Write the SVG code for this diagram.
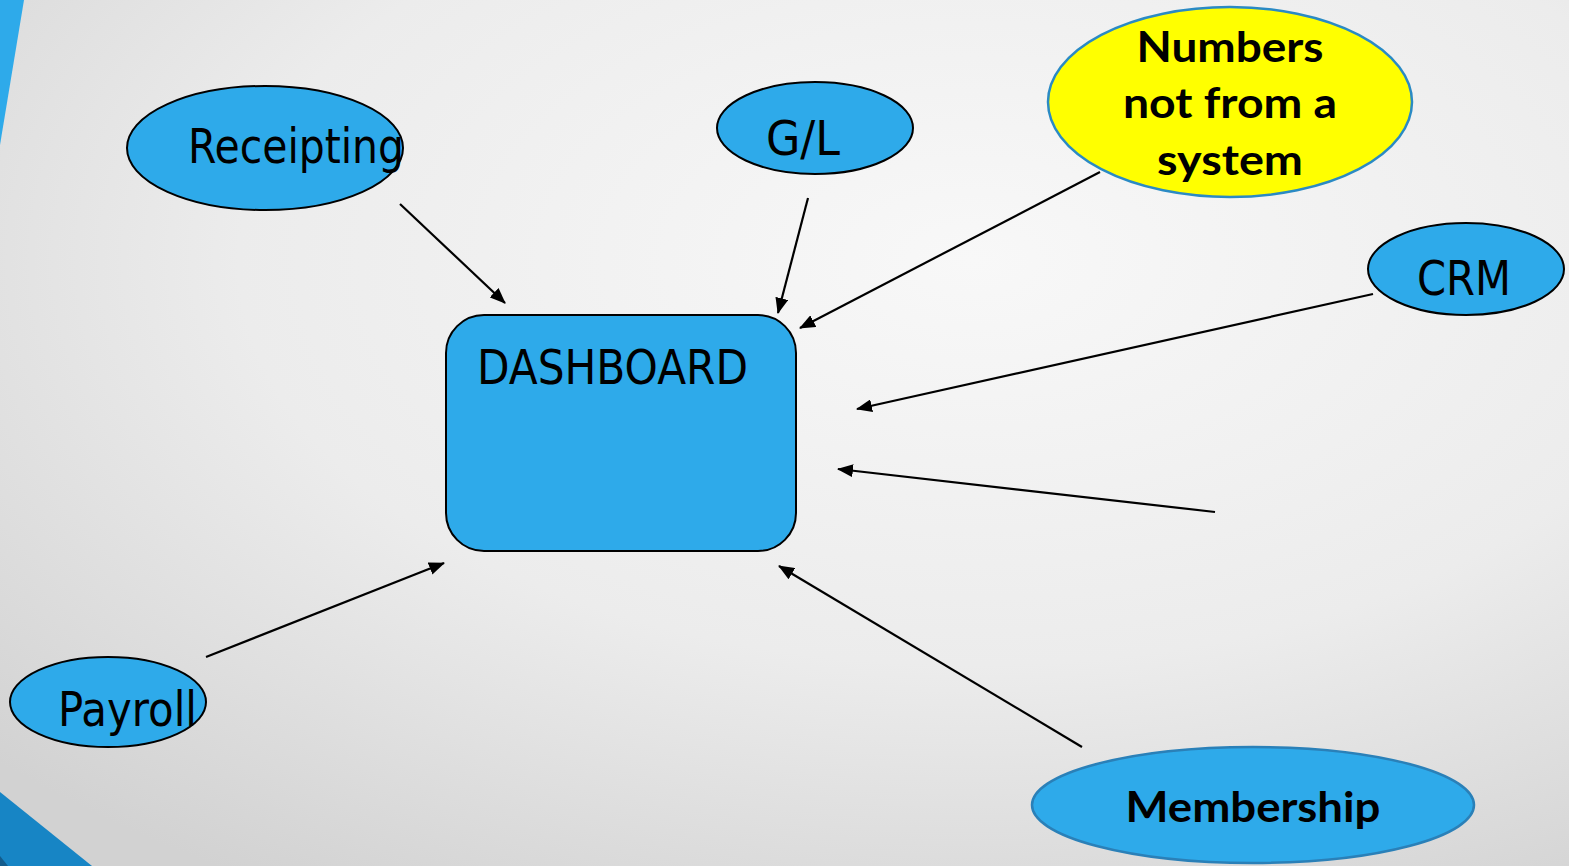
<svg xmlns="http://www.w3.org/2000/svg" width="1569" height="866" viewBox="0 0 1569 866">
  <defs>
    <radialGradient id="bg" cx="0.62" cy="0.3" r="0.85" gradientUnits="objectBoundingBox">
      <stop offset="0" stop-color="#f8f8f8"/>
      <stop offset="0.55" stop-color="#ececec"/>
      <stop offset="1" stop-color="#d2d2d2"/>
    </radialGradient>
    <marker id="arrow" viewBox="0 0 16 13" refX="15" refY="6.5" markerWidth="16" markerHeight="13" markerUnits="userSpaceOnUse" orient="auto">
      <path d="M0,0 L16,6.5 L0,13 Z" fill="#000"/>
    </marker>
    <style>
      .node { fill: #2eaaea; stroke: #000; stroke-width: 2; }
      .node-blue { fill: #2eaaea; stroke: #2a80b8; stroke-width: 2.5; }
      .node-yellow { fill: #ffff00; stroke: #2a8ac4; stroke-width: 2.5; }
      .lbl { font-family: "DejaVu Sans", Verdana, sans-serif; font-size: 48px; fill: #000; }
      .lbl-bold { font-family: Lato, "Open Sans", "Liberation Sans", sans-serif; font-weight: 700; font-size: 42px; fill: #000; text-anchor: middle; }
      .conn line { stroke: #000; stroke-width: 2.2; marker-end: url(#arrow); }
    </style>
  </defs>

  <!-- background and slide decorations -->
  <rect x="0" y="0" width="1569" height="866" fill="url(#bg)"/>
  <polygon points="0,0 24,0 0,145" fill="#2eaaea"/>
  <polygon points="0,792 92,866 0,866" fill="#1785c5"/>
  <polygon points="0,856 8,866 0,866" fill="#135c8c"/>

  <!-- connectors -->
  <g id="connectors" class="conn">
    <line x1="400" y1="204" x2="505" y2="303"/>
    <line x1="808" y1="198" x2="778" y2="313"/>
    <line x1="1100" y1="172" x2="800" y2="328"/>
    <line x1="1373" y1="294" x2="857" y2="409"/>
    <line x1="1215" y1="512" x2="838" y2="469"/>
    <line x1="206" y1="657" x2="444" y2="563"/>
    <line x1="1082" y1="747" x2="779" y2="566"/>
  </g>

  <g id="dashboard">
    <rect class="node" x="446" y="315" width="350" height="236" rx="38" ry="38"/>
    <text class="lbl" x="477" y="384" textLength="271" lengthAdjust="spacingAndGlyphs">DASHBOARD</text>
  </g>

  <g id="receipting">
    <ellipse class="node" cx="265" cy="148" rx="138" ry="62"/>
    <text class="lbl" x="188" y="163" textLength="216" lengthAdjust="spacingAndGlyphs">Receipting</text>
  </g>

  <g id="gl">
    <ellipse class="node" cx="815" cy="128" rx="98" ry="46"/>
    <text class="lbl" x="766" y="155" textLength="74" lengthAdjust="spacingAndGlyphs">G/L</text>
  </g>

  <g id="numbers">
    <ellipse class="node-yellow" cx="1230" cy="102" rx="182" ry="95"/>
    <text class="lbl-bold" x="1230" y="62" textLength="187" lengthAdjust="spacingAndGlyphs">Numbers</text>
    <text class="lbl-bold" x="1230" y="118" textLength="214" lengthAdjust="spacingAndGlyphs">not from a</text>
    <text class="lbl-bold" x="1230" y="175" textLength="146" lengthAdjust="spacingAndGlyphs">system</text>
  </g>

  <g id="crm">
    <ellipse class="node" cx="1466" cy="269" rx="98" ry="46"/>
    <text class="lbl" x="1417" y="295" textLength="94" lengthAdjust="spacingAndGlyphs">CRM</text>
  </g>

  <g id="payroll">
    <ellipse class="node" cx="108" cy="702" rx="98" ry="45"/>
    <text class="lbl" x="58" y="726" textLength="139" lengthAdjust="spacingAndGlyphs">Payroll</text>
  </g>

  <g id="membership">
    <ellipse class="node-blue" cx="1253" cy="805" rx="221" ry="58"/>
    <text class="lbl-bold" x="1253" y="822" textLength="255" lengthAdjust="spacingAndGlyphs">Membership</text>
  </g>
</svg>
